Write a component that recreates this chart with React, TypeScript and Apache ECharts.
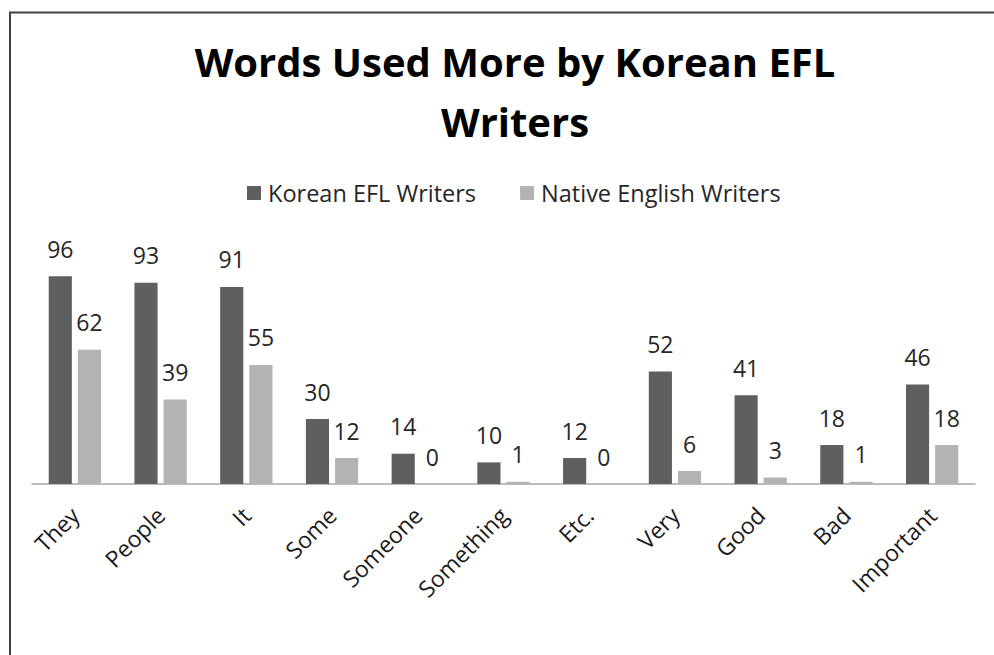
import React, { useEffect, useRef } from "react";
import * as echarts from "echarts";

const categories = ["They", "People", "It", "Some", "Someone", "Something", "Etc.", "Very", "Good", "Bad", "Important"];
const koreanEFL = [96, 93, 91, 30, 14, 10, 12, 52, 41, 18, 46];
const nativeEnglish = [62, 39, 55, 12, 0, 1, 0, 6, 3, 1, 18];
const seriesNames = ["Korean EFL Writers", "Native English Writers"];
const titleText = "Words Used More by Korean EFL\nWriters";

const FONT = "Open Sans";

export default function App() {
  const ref = useRef<HTMLDivElement>(null);
  useEffect(() => {
    if (!ref.current) return;
    const chart = echarts.init(ref.current, null, { renderer: "svg" });
    const labelStyle = {
      show: true,
      position: "top" as const,
      distance: 16,
      fontFamily: FONT,
      fontSize: 23,
      color: "#262626",
    };
    chart.setOption({
      animation: false,
      backgroundColor: "#ffffff",
      title: {
        text: titleText,
        left: 510,
        top: 26,
        textAlign: "center",
        textStyle: {
          fontFamily: FONT,
          fontWeight: "bold",
          fontSize: 40,
          lineHeight: 60,
          color: "#000000",
        },
      },
      legend: {
        top: 181,
        left: 247,
        padding: 0,
        itemWidth: 14,
        itemHeight: 14,
        itemGap: 44,
        icon: "rect",
        textStyle: { fontFamily: FONT, fontSize: 23.5, color: "#262626", padding: [0, 0, 0, 2] },
        data: seriesNames,
      },
      grid: { left: 32, right: 19, top: 267.5, bottom: 171, containLabel: false },
      xAxis: {
        type: "category",
        data: categories,
        axisLine: { show: true, lineStyle: { color: "#a6a6a6", width: 1.5 } },
        axisTick: { show: false },
        axisLabel: {
          rotate: 45,
          interval: 0,
          margin: 27,
          fontFamily: FONT,
          fontSize: 23,
          color: "#1a1a1a",
        },
      },
      yAxis: {
        type: "value",
        min: 0,
        max: 100,
        show: false,
        splitLine: { show: false },
      },
      series: [
        {
          name: seriesNames[0],
          type: "bar",
          data: koreanEFL,
          barGap: "26%",
          barCategoryGap: "39%",
          itemStyle: { color: "#5f5f5f" },
          label: labelStyle,
        },
        {
          name: seriesNames[1],
          type: "bar",
          data: nativeEnglish,
          itemStyle: { color: "#b3b3b3" },
          label: labelStyle,
        },
      ],
      graphic: [
        { type: "line", shape: { x1: 10, y1: 12, x2: 10, y2: 655 }, style: { stroke: "#404040", lineWidth: 2 } },
        { type: "line", shape: { x1: 9, y1: 12.5, x2: 994, y2: 12.5 }, style: { stroke: "#404040", lineWidth: 2 } },
      ],
    });
    return () => chart.dispose();
  }, []);
  return (
    <div
      ref={ref}
      style={{ position: "absolute", left: 0, top: 0, width: 994, height: 655 }}
    />
  );
}
